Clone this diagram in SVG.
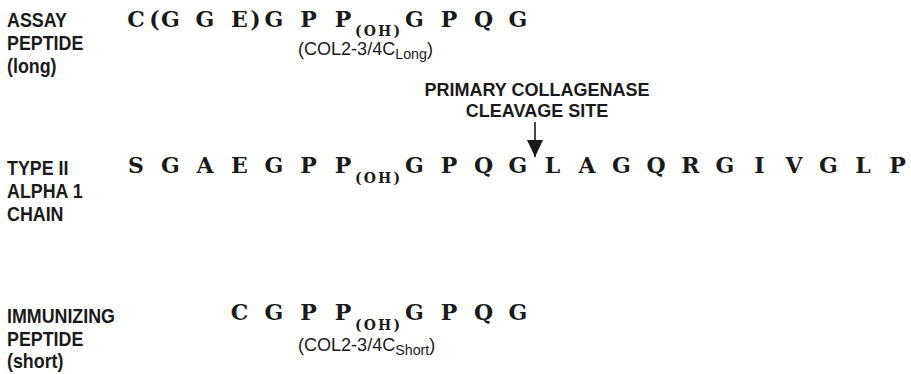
<svg xmlns="http://www.w3.org/2000/svg" width="911" height="374" viewBox="0 0 911 374">
<style>
.lbl{font-family:"Liberation Sans",Arial,sans-serif;font-weight:bold;font-size:21px;fill:#1a1a1a}
.lbl2{font-family:"Liberation Sans",Arial,sans-serif;font-weight:bold;font-size:18px;fill:#1a1a1a;text-anchor:middle}
.seq{font-family:"DejaVu Serif",serif;font-weight:bold;font-size:22px;fill:#1a1a1a;text-anchor:middle}
.sub{font-family:"DejaVu Serif",serif;font-weight:bold;font-size:14px;fill:#1a1a1a}
.col{font-family:"Liberation Sans",Arial,sans-serif;font-size:19px;fill:#1a1a1a}
.conn{stroke:#1a1a1a;stroke-width:1.6;fill:none}
</style>
<defs>
<marker id="ah" markerWidth="18" markerHeight="16" refX="17" refY="8" orient="auto" markerUnits="userSpaceOnUse" viewBox="0 0 18 16">
<path d="M0,0 L17,8 L0,16 Z" fill="#1a1a1a"/>
</marker>
</defs>
<rect width="911" height="374" fill="#fff"/>

<g id="assay-label">
<text class="lbl" transform="translate(7,27) scale(0.85,1)">ASSAY</text>
<text class="lbl" transform="translate(7,50) scale(0.85,1)">PEPTIDE</text>
<text class="lbl" transform="translate(7,73) scale(0.85,1)">(long)</text>
</g>

<g id="assay-seq">
<text class="seq" y="26.5"><tspan x="136">C</tspan><tspan x="154.5">(</tspan><tspan x="170.5">G</tspan><tspan x="205">G</tspan><tspan x="239.5">E</tspan><tspan x="255.5">)</tspan><tspan x="274">G</tspan><tspan x="308.5">P</tspan><tspan x="343">P</tspan><tspan x="414.5">G</tspan><tspan x="449">P</tspan><tspan x="483.5">Q</tspan><tspan x="518">G</tspan></text>
<text class="sub" x="355" y="36" textLength="45" lengthAdjust="spacing">(OH)</text>
<text class="col" transform="translate(298,55) scale(0.95,1)">(COL2-3/4C<tspan font-size="15" dy="4">Long</tspan><tspan dy="-4">)</tspan></text>
</g>

<g id="cleavage-label">
<text class="lbl2" x="537" y="96">PRIMARY COLLAGENASE</text>
<text class="lbl2" x="537" y="117">CLEAVAGE SITE</text>
</g>

<g id="type2-label">
<text class="lbl" transform="translate(7,175) scale(0.85,1)">TYPE II</text>
<text class="lbl" transform="translate(7,198) scale(0.85,1)">ALPHA 1</text>
<text class="lbl" transform="translate(7,221) scale(0.85,1)">CHAIN</text>
</g>

<g id="type2-seq">
<text class="seq" y="173"><tspan x="136">S</tspan><tspan x="170.5">G</tspan><tspan x="205">A</tspan><tspan x="239.5">E</tspan><tspan x="274">G</tspan><tspan x="308.5">P</tspan><tspan x="343">P</tspan><tspan x="414.5">G</tspan><tspan x="449">P</tspan><tspan x="483.5">Q</tspan><tspan x="518">G</tspan><tspan x="552.5">L</tspan><tspan x="587">A</tspan><tspan x="621.5">G</tspan><tspan x="656">Q</tspan><tspan x="690.5">R</tspan><tspan x="725">G</tspan><tspan x="759.5">I</tspan><tspan x="794">V</tspan><tspan x="828.5">G</tspan><tspan x="863">L</tspan><tspan x="897.5">P</tspan></text>
<text class="sub" x="355" y="183" textLength="45" lengthAdjust="spacing">(OH)</text>
</g>

<g id="immunizing-label">
<text class="lbl" transform="translate(7,323) scale(0.85,1)">IMMUNIZING</text>
<text class="lbl" transform="translate(7,346) scale(0.85,1)">PEPTIDE</text>
<text class="lbl" transform="translate(7,368) scale(0.85,1)">(short)</text>
</g>

<g id="immunizing-seq">
<text class="seq" y="320"><tspan x="239.5">C</tspan><tspan x="274">G</tspan><tspan x="308.5">P</tspan><tspan x="343">P</tspan><tspan x="414.5">G</tspan><tspan x="449">P</tspan><tspan x="483.5">Q</tspan><tspan x="518">G</tspan></text>
<text class="sub" x="355" y="330" textLength="45" lengthAdjust="spacing">(OH)</text>
<text class="col" transform="translate(298,351) scale(0.95,1)">(COL2-3/4C<tspan font-size="15" dy="4">Short</tspan><tspan dy="-4">)</tspan></text>
</g>

<g id="connectors">
<line class="conn" x1="535" y1="122" x2="535" y2="157" marker-end="url(#ah)"/>
</g>
</svg>
